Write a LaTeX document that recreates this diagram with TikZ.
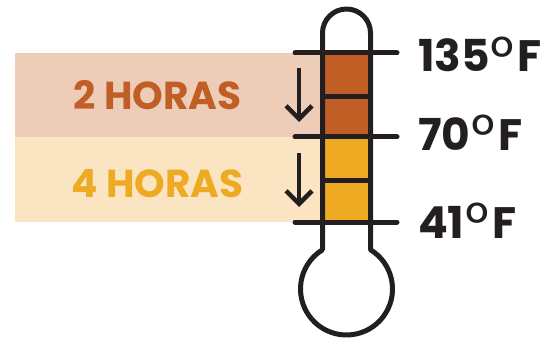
\documentclass[tikz,border=0pt]{standalone}
\usepackage{fontspec}
\setmainfont{Poppins}
\usetikzlibrary{arrows.meta}
\definecolor{th_ink}{RGB}{35, 31, 32}
\definecolor{th_hot}{RGB}{192, 94, 38}
\definecolor{th_warm}{RGB}{239, 170, 35}
\definecolor{th_hotband}{RGB}{237, 205, 184}
\definecolor{th_warmband}{RGB}{250, 228, 194}
\newcommand{\thdeg}{\kern1pt\raisebox{-0.12em}{\fontsize{58}{58}\selectfont\mdseries °}\kern3pt}
\tikzstyle{temp}=[anchor=base west,inner sep=0pt,text=th_ink,
  font=\fontsize{44}{44}\selectfont\bfseries]
\tikzstyle{hours}=[anchor=base,inner sep=0pt,
  font=\fontsize{39}{39}\selectfont\bfseries]
\tikzstyle{tube}=[draw=th_ink,line width=5pt,line join=round]
\tikzstyle{tick}=[draw=th_ink,line width=5pt,line cap=round]
\tikzstyle{fall}=[draw=th_ink,line width=4.5pt,
  -{Straight Barb[length=13pt,width=26pt,line width=4.5pt]}]

\begin{document}
\begin{tikzpicture}[x=1pt,y=1pt]
        \useasboundingbox (0,0) rectangle (545,-339);
        % bands
        \fill [th_hotband] (15,-53) rectangle (330,-137);
        \fill [th_warmband] (15,-137) rectangle (330,-222);
        % fill of the tube
        \fill [th_hot] (322.5,-53) rectangle (370.5,-137);
        \fill [th_warm] (322.5,-137) rectangle (370.5,-222);
        \draw [style=tube] (322.5,-249.75) -- (322.5,-33) arc (180:0:24)
          -- (370.5,-249.75) arc (58.55:-238.55:46) -- cycle;
        \coordinate (t1l) at (295,-53);
        \coordinate (t1r) at (397,-53);
        \coordinate (t2l) at (295,-137);
        \coordinate (t2r) at (397,-137);
        \coordinate (t3l) at (295,-222);
        \coordinate (t3r) at (397,-222);
        \coordinate (m1l) at (322.5,-97);
        \coordinate (m1r) at (370.5,-97);
        \coordinate (m2l) at (322.5,-180);
        \coordinate (m2r) at (370.5,-180);
        \draw [style=tick] (t1l) to (t1r);
        \draw [style=tick] (t2l) to (t2r);
        \draw [style=tick] (t3l) to (t3r);
        \draw [style=tube] (m1l) to (m1r);
        \draw [style=tube] (m2l) to (m2r);
        \coordinate (a1s) at (299,-68);
        \coordinate (a1e) at (299,-122);
        \coordinate (a2s) at (299,-153);
        \coordinate (a2e) at (299,-207);
        \draw [style=fall] (a1s) to (a1e);
        \draw [style=fall] (a2s) to (a2e);
        \node [style=temp] (hi) at (418,-72) {135\thdeg F};
        \node [style=temp] (mid) at (418,-150) {70\thdeg F};
        \node [style=temp] (lo) at (418,-238) {41\thdeg F};
        \node [style=hours,text=th_hot] (two) at (157.5,-110) {2 HORAS};
        \node [style=hours,text=th_warm] (four) at (157.5,-197) {4 HORAS};
    \end{tikzpicture}
\end{document}
